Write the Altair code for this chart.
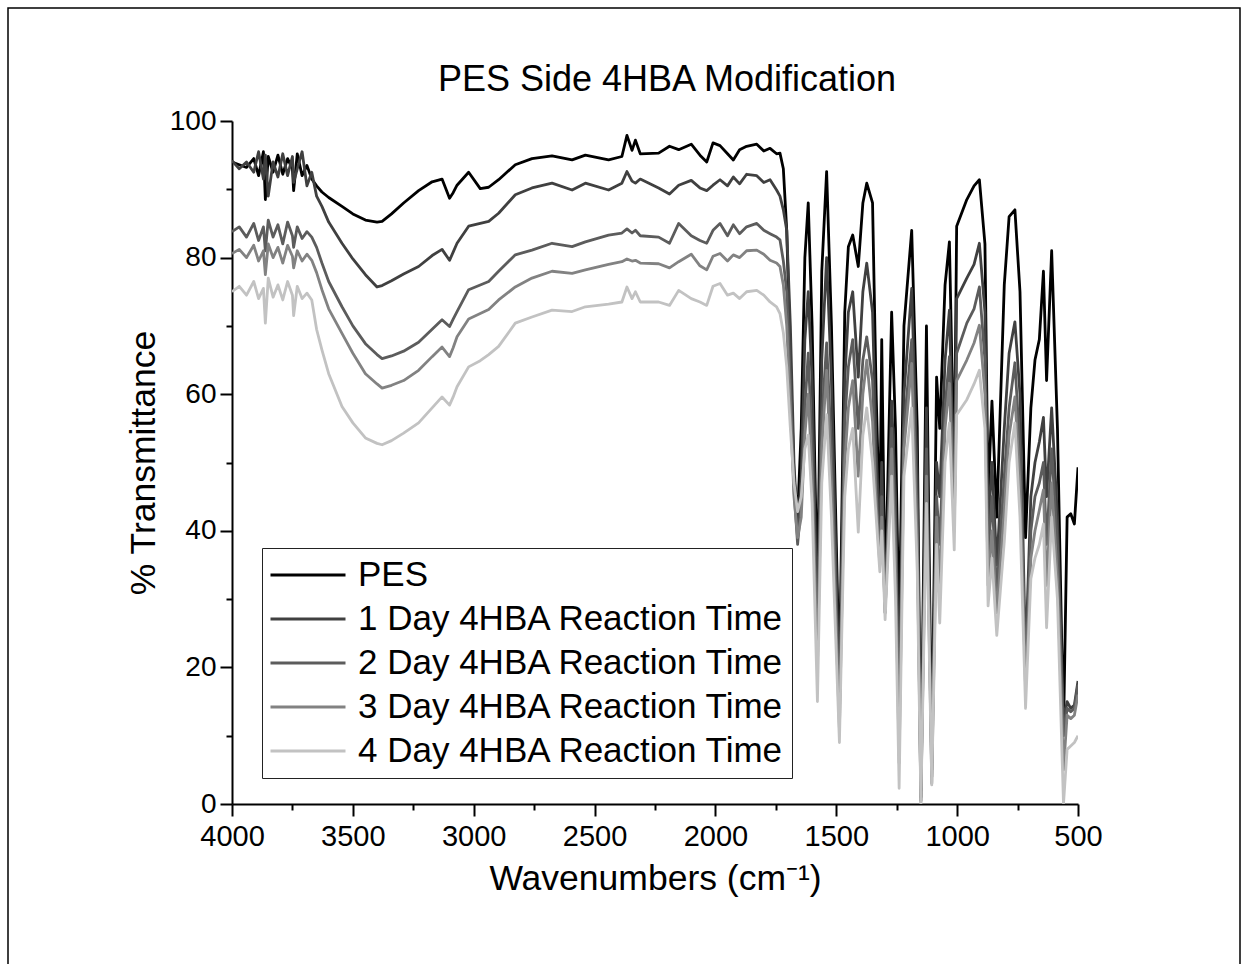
import altair as alt
import pandas as pd

# Wavenumber grid (cm^-1)
wn = [
    4000, 3970, 3940, 3910, 3890, 3870, 3862, 3850, 3830, 3810,
    3790, 3770, 3750, 3745, 3730, 3710, 3690, 3670, 3650, 3628,
    3600, 3545, 3500, 3448, 3400, 3379, 3340, 3290, 3228, 3172,
    3131, 3100, 3085, 3069, 3021, 2973, 2938, 2897, 2828, 2759,
    2676, 2593, 2538, 2442, 2387, 2366, 2345, 2331, 2311, 2235,
    2190, 2152, 2100, 2064, 2036, 2010, 1981, 1950, 1926, 1900,
    1871, 1829, 1800, 1774, 1747, 1733, 1719, 1705, 1690, 1675,
    1660, 1645, 1630, 1616, 1600, 1578, 1560, 1540, 1520, 1487,
    1465, 1450, 1432, 1409, 1390, 1374, 1350, 1335, 1320, 1312,
    1298, 1271, 1255, 1240, 1220, 1188, 1165, 1150, 1127, 1105,
    1085, 1072, 1050, 1032, 1012, 1002, 960, 930, 908, 885,
    872, 856, 836, 805, 785, 761, 740, 717, 695, 678,
    660, 643, 630, 609, 585, 560, 545, 530, 515, 500,
]

t_pes = [
    94.0, 93.6, 93.2, 94.5, 92.0, 95.5, 88.5, 94.8, 92.5, 95.0,
    92.2, 94.5, 93.0, 89.8, 95.2, 92.0, 93.5, 91.5, 90.5, 89.6,
    88.8, 87.5, 86.4, 85.5, 85.2, 85.3, 86.4, 88.0, 89.8, 91.1,
    91.5, 88.7, 89.5, 90.6, 92.5, 90.1, 90.3, 91.4, 93.6, 94.5,
    94.9, 94.3, 95.0, 94.3, 94.8, 97.9, 95.7, 97.2, 95.2, 95.3,
    96.3, 95.8, 96.6, 95.0, 94.0, 96.8, 96.4, 95.2, 94.3, 95.8,
    96.3, 96.6, 95.6, 96.0, 95.2, 95.3, 93.0, 84.0, 65.0, 48.0,
    42.0, 55.0, 80.0, 88.0, 70.0, 30.0, 78.0, 92.6, 70.0, 18.0,
    72.0, 81.6, 83.3, 78.7, 88.0, 90.9, 88.0, 60.0, 40.0, 68.0,
    30.0, 72.0, 55.0, 24.5, 70.0, 84.0, 55.0, 2.0, 70.0, 6.0,
    62.5, 55.0, 76.0, 82.3, 48.0, 84.6, 88.5, 90.5, 91.4, 82.0,
    45.0, 59.0, 42.0, 76.0, 86.0, 87.0, 75.0, 39.0, 58.0, 65.0,
    68.0, 78.0, 62.0, 81.0, 55.0, 10.5, 42.0, 42.5, 41.0, 49.3,
]

t_1d = [
    94.2, 93.0, 94.0, 92.5, 95.5, 91.5, 95.0, 89.0, 94.0, 91.8,
    95.2, 92.0, 94.8, 91.0, 93.0, 95.5, 90.5, 92.5, 89.0, 87.5,
    85.2, 82.1, 79.8, 77.5, 75.7, 75.9, 76.6, 77.6, 78.7, 80.3,
    81.2, 79.6, 80.8, 82.1, 84.6, 85.0, 85.3, 86.5, 89.2, 90.2,
    90.9, 89.9, 90.9, 89.9, 90.9, 92.6, 91.2, 90.9, 91.5, 90.2,
    89.3, 90.6, 91.3, 90.2, 89.8, 90.6, 91.4, 90.5, 91.8, 90.8,
    92.2, 92.0, 91.0, 91.4, 89.9, 89.0, 87.0, 84.0, 70.0, 50.0,
    40.0, 48.0, 68.0, 75.0, 62.0, 25.0, 65.0, 80.0, 62.0, 15.0,
    62.0, 72.0, 75.0, 62.5, 75.0, 79.2, 72.0, 52.0, 38.0, 50.0,
    29.0, 59.0, 45.0, 15.0, 60.0, 75.5, 48.0, 1.0, 58.0, 5.0,
    50.0, 45.0, 65.0, 72.3, 44.0, 74.0, 77.0, 79.0, 82.1, 72.0,
    40.0, 50.0, 35.0, 55.0, 66.0, 70.6, 60.0, 21.0, 45.0, 50.0,
    53.0, 56.6, 45.0, 58.0, 42.0, 12.0, 15.0, 14.0, 14.5, 18.0,
]

t_2d = [
    83.8, 84.5, 83.0, 85.0, 82.5, 84.5, 81.0, 85.5, 83.0, 84.8,
    82.0, 85.2, 83.2, 81.5, 84.5, 82.8, 83.8, 83.0, 81.5, 79.2,
    76.5, 72.8, 70.0, 67.4, 65.8, 65.2, 65.6, 66.3, 67.6, 69.5,
    70.9, 69.9, 71.0, 72.1, 75.3, 76.0, 76.5, 78.0, 80.4, 81.1,
    82.1, 81.6, 82.3, 83.3, 83.6, 84.2, 83.6, 84.0, 83.2, 83.0,
    82.1, 85.0, 83.2, 82.5, 82.1, 84.0, 85.0, 83.2, 84.8, 83.5,
    84.5, 85.0, 84.0, 83.5, 83.0, 82.6, 79.5, 75.0, 62.0, 46.0,
    38.0, 44.0, 58.0, 66.0, 52.0, 22.0, 56.0, 67.5, 52.0, 13.0,
    56.0, 64.0, 68.0, 55.0, 65.0, 68.4, 62.0, 46.0, 36.0, 45.0,
    28.0, 55.0, 40.0, 10.0, 55.0, 68.0, 42.0, 0.5, 52.0, 4.0,
    45.0, 38.0, 58.0, 65.5, 42.0, 66.0, 70.4, 72.5, 75.7, 65.0,
    36.0, 45.0, 31.0, 48.0, 58.0, 64.6, 52.0, 19.0, 40.0, 45.0,
    47.0, 50.0, 38.0, 52.0, 38.0, 10.0, 14.0, 13.5, 14.0, 17.5,
]

t_3d = [
    80.6, 81.2, 80.0, 81.8, 79.5, 81.0, 77.5, 82.0, 80.0, 81.5,
    79.2, 81.8, 80.2, 78.5, 81.0, 79.5, 80.5, 79.6, 77.8, 75.3,
    72.5, 68.9, 66.0, 63.0, 61.5, 60.9, 61.3, 62.0, 63.5, 65.5,
    66.9, 65.5, 66.8, 68.4, 71.0, 71.8, 72.4, 73.8, 75.7, 77.0,
    78.0, 77.7, 78.2, 79.0, 79.4, 79.8, 79.5, 79.6, 79.2, 79.1,
    78.5, 79.4, 80.5, 78.8, 78.2, 80.2, 80.6, 79.5, 80.4, 80.0,
    81.0, 81.1, 80.5, 79.6, 79.2, 78.7, 76.0, 70.0, 58.0, 45.0,
    39.0, 42.0, 54.0, 60.0, 48.0, 20.0, 52.0, 63.5, 47.0, 11.0,
    50.0, 58.0, 62.0, 48.0, 60.0, 65.0, 56.0, 44.0, 35.0, 42.0,
    28.0, 52.0, 36.0, 6.0, 52.0, 64.5, 38.0, 0.3, 48.0, 3.0,
    42.0, 32.0, 55.0, 61.6, 40.0, 62.0, 65.0, 67.5, 70.1, 60.0,
    32.0, 40.0, 28.0, 43.0, 54.0, 59.6, 47.0, 17.0, 36.0, 40.0,
    43.0, 46.0, 32.0, 47.0, 33.0, 5.0, 13.0, 12.5, 13.0, 16.0,
]

t_4d = [
    75.0, 75.8, 74.5, 76.5, 74.0, 75.5, 70.4, 77.0, 74.2, 76.0,
    73.8, 76.5, 74.5, 71.5, 75.8, 74.0, 74.8, 73.8, 69.5, 66.5,
    63.0, 58.2, 55.8, 53.6, 52.8, 52.6, 53.2, 54.3, 55.8, 58.0,
    59.6, 58.4, 59.6, 61.1, 64.0, 64.9, 65.8, 67.0, 70.4, 71.3,
    72.3, 72.1, 72.8, 73.2, 73.5, 75.7, 74.0, 75.0, 73.5, 73.5,
    73.0, 75.2, 74.0, 73.5, 73.0, 75.8, 76.2, 74.5, 74.8, 74.0,
    75.0, 75.2, 74.5, 73.5, 72.8, 71.8, 69.0, 64.0, 55.0, 47.0,
    42.8, 45.0, 52.0, 54.0, 44.0, 15.0, 47.0, 57.0, 42.0, 9.0,
    45.0, 52.0, 55.0, 39.8, 54.0, 58.0, 50.0, 42.0, 34.0, 40.0,
    27.0, 48.0, 30.0, 2.3, 48.0, 58.0, 34.0, 0.0, 44.0, 2.8,
    38.0, 26.5, 50.0, 55.8, 37.2, 57.0, 59.2, 61.5, 63.5, 55.0,
    29.0, 36.0, 24.7, 38.4, 50.0, 55.8, 42.0, 14.0, 33.0, 36.0,
    38.0, 41.0, 25.8, 42.0, 30.0, 0.0, 8.0, 8.5, 9.0, 10.0,
]

series_names = [
    "PES",
    "1 Day 4HBA Reaction Time",
    "2 Day 4HBA Reaction Time",
    "3 Day 4HBA Reaction Time",
    "4 Day 4HBA Reaction Time",
]
series_colors = ["#000000", "#404040", "#5c5c5c", "#828282", "#c2c2c2"]
series_values = [t_pes, t_1d, t_2d, t_3d, t_4d]

chart_title = ["PES Side 4HBA Modification"]

FONT = "Liberation Sans"

color_scale = alt.Scale(domain=series_names, range=series_colors)

x_axis = alt.Axis(
    values=list(range(500, 4001, 250)),
    labelExpr="datum.value % 500 === 0 ? datum.label : ''",
    format="d",
    tickSize={"condition": {"test": "datum.value % 500 === 0", "value": 12}, "value": 6},
    labelPadding=6,
    labelOverlap=False,
    labelFlush=False,
    labelFontSize=29,
    title="Wavenumbers (cm\u207b\u00b9)",
    titlePadding=10,
)
y_axis = alt.Axis(
    values=list(range(0, 101, 10)),
    labelExpr="datum.value % 20 === 0 ? datum.label : ''",
    tickSize={"condition": {"test": "datum.value % 20 === 0", "value": 12}, "value": 6},
    labelPadding=4,
    labelOverlap=False,
    labelFlush=False,
    labelFontSize=28,
    title="% Transmittance",
    titlePadding=8,
)

x_scale = alt.Scale(domain=[500, 4000], reverse=True, nice=False, zero=False)
y_scale = alt.Scale(domain=[0, 100], nice=False, zero=True)

legend = alt.Legend(
    title=None,
    orient="none",
    legendX=30,
    legendY=427,
    symbolType="stroke",
    symbolSize=5625,
    symbolStrokeWidth=3,
    labelFont=FONT,
    labelFontSize=35,
    labelColor="black",
    labelOffset=11,
    labelLimit=700,
    clipHeight=40,
    rowPadding=4,
    padding=7,
    strokeColor="#222222",
    fillColor="white",
)

layers = []
for name, vals in zip(series_names, series_values):
    df = pd.DataFrame({"wn": wn, "T": vals, "series": name})
    layers.append(
        alt.Chart(df)
        .mark_line(strokeWidth=2.8, strokeJoin="round", clip=True)
        .encode(
            x=alt.X("wn:Q", scale=x_scale, axis=x_axis),
            y=alt.Y("T:Q", scale=y_scale, axis=y_axis),
            color=alt.Color("series:N", scale=color_scale, legend=legend),
        )
    )

# Thin page frame around the whole figure (decoration)
frame = (
    alt.Chart(pd.DataFrame({"a": [0]}))
    .mark_rect(filled=False, stroke="black", strokeWidth=1.5)
    .encode(x=alt.value(-224), x2=alt.value(1008), y=alt.value(-113), y2=alt.value(860))
)

# Chart title as a text mark (placed above the plot area)
title_mark = (
    alt.Chart(pd.DataFrame({"label": chart_title}))
    .mark_text(font=FONT, fontSize=36, color="black", align="center", baseline="alphabetic")
    .encode(text="label:N", x=alt.value(435), y=alt.value(-30))
)

chart = (
    alt.layer(frame, title_mark, *layers)
    .properties(
        width=846,
        height=683,
        autosize=alt.AutoSizeParams(type="none"),
        padding={"left": 232, "top": 121, "right": 167, "bottom": 160},
    )
    .configure_view(stroke=None)
    .configure_axis(
        domainColor="black",
        domainWidth=2,
        tickColor="black",
        tickWidth=2,
        grid=False,
        labelFont=FONT,
        labelFontSize=27,
        labelColor="black",
        titleFont=FONT,
        titleFontSize=35.5,
        titleFontWeight="normal",
        titleColor="black",
    )
)

chart.save("out.html", embed_options={"renderer": "svg", "actions": False})
